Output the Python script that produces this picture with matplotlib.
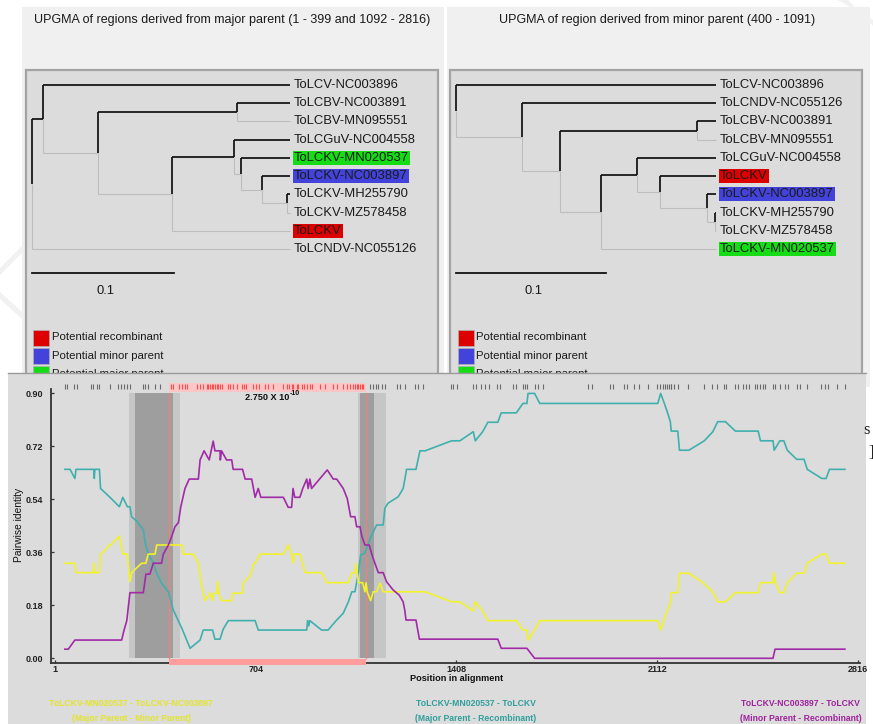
import matplotlib
matplotlib.use('Agg')
import matplotlib.pyplot as plt
from matplotlib.patches import Rectangle

W, H = 873, 724
plt.rcParams['font.family'] = ['Liberation Sans', 'DejaVu Sans']

# ---------------- data ----------------
# UPGMA trees: (node height, upper child, lower child); leaves are names
tree_major = (0.1815,
              (0.1734, 'ToLCV-NC003896',
               (0.1347,
                (0.0375, 'ToLCBV-NC003891', 'ToLCBV-MN095551'),
                (0.0831,
                 (0.0391, 'ToLCGuV-NC004558',
                  (0.0344, 'ToLCKV-MN020537',
                   (0.0195, 'ToLCKV-NC003897',
                    (0.0019, 'ToLCKV-MH255790', 'ToLCKV-MZ578458')))),
                 'ToLCKV'))),
              'ToLCNDV-NC055126')
tree_minor = (0.1733, 'ToLCV-NC003896',
              (0.1291, 'ToLCNDV-NC055126',
               (0.1040,
                (0.0129, 'ToLCBV-NC003891', 'ToLCBV-MN095551'),
                (0.0769,
                 (0.0529, 'ToLCGuV-NC004558',
                  (0.0373, 'ToLCKV',
                   (0.0062, 'ToLCKV-NC003897',
                    (0.0007, 'ToLCKV-MH255790', 'ToLCKV-MZ578458')))),
                 'ToLCKV-MN020537'))))
recombinant = 'ToLCKV'
minor_parent = 'ToLCKV-NC003897'
major_parent = 'ToLCKV-MN020537'
tree_titles = ['UPGMA of regions derived from major parent (1 - 399 and 1092 - 2816)',
               'UPGMA of region derived from minor parent (400 - 1091)']
legend_labels = ['Potential recombinant', 'Potential minor parent', 'Potential major parent']
scale_len = 0.1

# pairwise identity plot
teal_pos = [35, 53, 70, 74, 136, 138, 140, 156, 160, 193, 226, 238, 254, 263, 269, 289, 310, 318,
            327, 345, 357, 374, 398, 415, 445, 474, 509, 520, 553, 561, 579, 590, 608, 702, 713,
            883, 886, 890, 894, 935, 958, 988, 1011, 1029, 1041, 1052, 1064, 1072, 1087, 1099,
            1111, 1128, 1151, 1157, 1168, 1204, 1221, 1227, 1233, 1266, 1280, 1298, 1391, 1420,
            1467, 1474, 1500, 1518, 1553, 1565, 1618, 1641, 1655, 1659, 1682, 1700, 2114, 2124,
            2137, 2149, 2158, 2161, 2184, 2190, 2223, 2277, 2307, 2324, 2351, 2386, 2466, 2474,
            2518, 2522, 2542, 2556, 2568, 2601, 2627, 2638, 2689, 2704, 2716, 2770]
teal_val = [0.642, 0.642, 0.611, 0.642, 0.642, 0.611, 0.642, 0.642, 0.577, 0.547, 0.515, 0.547,
            0.515, 0.515, 0.481, 0.464, 0.436, 0.385, 0.357, 0.323, 0.289, 0.255, 0.226, 0.164,
            0.102, 0.034, 0.062, 0.096, 0.096, 0.065, 0.065, 0.099, 0.128, 0.128, 0.096, 0.096,
            0.128, 0.110, 0.128, 0.096, 0.096, 0.130, 0.153, 0.192, 0.226, 0.226, 0.289, 0.351,
            0.357, 0.391, 0.419, 0.453, 0.453, 0.510, 0.527, 0.549, 0.577, 0.608, 0.642, 0.642,
            0.705, 0.705, 0.739, 0.739, 0.770, 0.739, 0.770, 0.802, 0.802, 0.834, 0.834, 0.866,
            0.866, 0.900, 0.900, 0.866, 0.866, 0.900, 0.866, 0.832, 0.804, 0.772, 0.772, 0.707,
            0.707, 0.739, 0.770, 0.804, 0.804, 0.772, 0.772, 0.739, 0.739, 0.707, 0.739, 0.739,
            0.707, 0.676, 0.676, 0.642, 0.611, 0.611, 0.642, 0.642]
yellow_pos = [35, 70, 74, 135, 137, 139, 156, 160, 176, 191, 196, 226, 238, 254, 263, 269, 304,
              319, 327, 351, 357, 445, 450, 485, 503, 515, 526, 544, 553, 556, 567, 571, 574, 585,
              620, 623, 658, 660, 684, 698, 702, 719, 801, 818, 830, 835, 839, 859, 877, 935, 953,
              1029, 1041, 1052, 1056, 1064, 1079, 1087, 1091, 1095, 1107, 1116, 1128, 1140, 1151,
              1298, 1391, 1420, 1467, 1474, 1500, 1518, 1618, 1641, 1655, 1659, 1682, 1700, 2114,
              2124, 2143, 2158, 2161, 2184, 2190, 2223, 2272, 2307, 2324, 2351, 2386, 2466, 2474,
              2518, 2521, 2526, 2542, 2556, 2568, 2601, 2627, 2638, 2689, 2704, 2716, 2770]
yellow_val = [0.323, 0.323, 0.291, 0.291, 0.323, 0.291, 0.291, 0.354, 0.368, 0.385, 0.385, 0.415,
              0.354, 0.354, 0.260, 0.291, 0.323, 0.323, 0.354, 0.354, 0.385, 0.385, 0.354, 0.354,
              0.323, 0.243, 0.196, 0.221, 0.196, 0.221, 0.221, 0.262, 0.221, 0.196, 0.196, 0.221,
              0.221, 0.255, 0.280, 0.323, 0.323, 0.354, 0.354, 0.385, 0.354, 0.323, 0.354, 0.354,
              0.291, 0.291, 0.257, 0.257, 0.291, 0.291, 0.323, 0.257, 0.257, 0.226, 0.257, 0.226,
              0.196, 0.226, 0.226, 0.255, 0.226, 0.226, 0.192, 0.192, 0.161, 0.192, 0.161, 0.128,
              0.128, 0.096, 0.096, 0.062, 0.096, 0.128, 0.128, 0.096, 0.153, 0.187, 0.223, 0.223,
              0.289, 0.289, 0.257, 0.226, 0.192, 0.192, 0.223, 0.223, 0.257, 0.257, 0.291, 0.257,
              0.223, 0.223, 0.257, 0.289, 0.289, 0.323, 0.354, 0.354, 0.323, 0.323]
purple_pos = [35, 47, 70, 234, 242, 252, 263, 310, 319, 333, 345, 374, 380, 398, 409, 421, 433,
              441, 456, 471, 503, 509, 523, 541, 555, 561, 579, 580, 584, 602, 620, 625, 658, 667,
              690, 702, 713, 722, 801, 818, 830, 835, 841, 859, 869, 883, 888, 894, 900, 955, 976,
              988, 1011, 1025, 1037, 1052, 1058, 1070, 1076, 1087, 1102, 1111, 1122, 1134, 1151,
              1163, 1186, 1207, 1221, 1227, 1231, 1266, 1278, 1553, 1565, 1655, 1682, 2518, 2525,
              2770]
purple_val = [0.031, 0.031, 0.062, 0.062, 0.094, 0.128, 0.223, 0.223, 0.286, 0.286, 0.323, 0.323,
              0.354, 0.385, 0.413, 0.447, 0.461, 0.513, 0.577, 0.609, 0.609, 0.674, 0.705, 0.674,
              0.738, 0.705, 0.705, 0.674, 0.705, 0.674, 0.674, 0.642, 0.642, 0.609, 0.609, 0.547,
              0.577, 0.547, 0.547, 0.513, 0.513, 0.577, 0.547, 0.547, 0.577, 0.609, 0.577, 0.609,
              0.577, 0.640, 0.609, 0.609, 0.577, 0.543, 0.481, 0.481, 0.447, 0.447, 0.415, 0.385,
              0.385, 0.354, 0.323, 0.291, 0.291, 0.260, 0.232, 0.215, 0.192, 0.162, 0.130, 0.130,
              0.065, 0.065, 0.034, 0.034, 0.000, 0.000, 0.031, 0.031]
series_labels = [('ToLCKV-MN020537 - ToLCKV-NC003897', '(Major Parent - Minor Parent)'),
                 ('ToLCKV-MN020537 - ToLCKV', '(Major Parent - Recombinant)'),
                 ('ToLCKV-NC003897 - ToLCKV', '(Minor Parent - Recombinant)')]
region_start, region_end = 400, 1091
bp_light = [(260, 437), (1062, 1160)]
bp_dark = [(281, 413), (1070, 1118)]
site_marks = [35, 41, 67, 78, 127, 135, 146, 156, 193, 222, 231, 242, 254, 263, 308, 316, 327, 351,
              368, 406, 415, 436, 444, 456, 464, 497, 509, 520, 532, 538, 544, 550, 555, 561, 567,
              573, 579, 585, 608, 614, 625, 637, 655, 663, 670, 696, 705, 717, 737, 748, 766, 801,
              815, 822, 830, 836, 848, 853, 865, 873, 883, 894, 900, 929, 947, 976, 988, 1011,
              1023, 1035, 1046, 1052, 1058, 1064, 1070, 1076, 1081, 1105, 1116, 1126, 1134, 1146,
              1157, 1198, 1210, 1227, 1262, 1274, 1292, 1388, 1397, 1411, 1465, 1476, 1493, 1508,
              1523, 1549, 1560, 1607, 1617, 1640, 1648, 1656, 1683, 1695, 1712, 1870, 1882, 1946,
              1956, 1995, 2007, 2030, 2049, 2080, 2110, 2120, 2133, 2139, 2145, 2154, 2159, 2162,
              2170, 2185, 2220, 2276, 2303, 2320, 2346, 2353, 2384, 2396, 2413, 2425, 2435, 2455,
              2463, 2472, 2484, 2490, 2519, 2525, 2542, 2560, 2571, 2601, 2612, 2636, 2688, 2700,
              2712, 2741, 2770]
yticks = [0.00, 0.18, 0.36, 0.54, 0.72, 0.90]
xticks = [1, 704, 1408, 2112, 2816]
pvalue_text = '2.750 X 10'
pvalue_exp = '-10'

# ---------------- colours ----------------
RED, BLUE, GREEN = '#dd0000', '#4343dc', '#16dc16'
TEAL, YELLOW, PURPLE = '#3fb0ad', '#f2f22a', '#a12aa6'
PANEL = '#dcdcdc'
WIN = '#f0f0f0'
hl = {recombinant: RED, minor_parent: BLUE, major_parent: GREEN}

fig = plt.figure(figsize=(W / 100, H / 100), dpi=100)
fig.patch.set_facecolor('white')


def px_axes(x0, y0, x1, y1, z):
    return fig.add_axes([x0 / W, 1 - y1 / H, (x1 - x0) / W, (y1 - y0) / H], zorder=z)


# background layer (windows, titles, legends)
bg = px_axes(0, 0, W, H, 0)
bg.set_xlim(0, W)
bg.set_ylim(H, 0)
bg.axis('off')
# faint watermark strokes
bg.fill([0, 22, 22, 0], [268, 246, 253, 275], color='#f1f1f1', lw=0, zorder=0)
bg.fill([0, 22, 22, 0], [292, 312, 319, 299], color='#f1f1f1', lw=0, zorder=0)
bg.fill([838, 873, 873, 848], [0, 20, 26, 0], color='#f1f1f1', lw=0, zorder=0)

windows = [(22, 444), (447, 870)]
boxes = [(26, 438), (450, 862)]
title_x = [232, 657]
for (w0, w1), (b0, b1), tx, title in zip(windows, boxes, title_x, tree_titles):
    bg.add_patch(Rectangle((w0, 7), w1 - w0, 380, fc=WIN, ec='none', zorder=1))
    bg.add_patch(Rectangle((b0, 70), b1 - b0, 320, fc=PANEL, ec='#a3a3a3', lw=1.6, zorder=2))
    bg.text(tx, 20, title, ha='center', va='center', fontsize=9, color='#1a1a1a', zorder=3)
    sq_x = b0 + 7 if b0 < 100 else b0 + 8
    for k, (lab, col) in enumerate(zip(legend_labels, [RED, BLUE, GREEN])):
        yc = 337.5 + k * 18.3
        bg.add_patch(Rectangle((sq_x, yc - 8), 15.5, 16, fc=col, ec='#b0b0b0', lw=0.5, zorder=3))
        bg.text(sq_x + 18.5, yc, lab, ha='left', va='center', fontsize=8.2, color='#1a1a1a', zorder=3)


def draw_tree(ax, node):
    leaves = []

    def rec(n):
        if isinstance(n, str):
            y = len(leaves)
            leaves.append(n)
            return 0.0, y
        h, a, b = n
        xa, ya = rec(a)
        xb, yb = rec(b)
        xn = -h
        yn = (ya + yb) / 2
        ax.plot([xn, xb], [yb, yb], color='#bdbdbd', lw=0.8, zorder=2, solid_capstyle='butt')
        ax.plot([xn, xn], [yn, yb], color='#bdbdbd', lw=0.8, zorder=2, solid_capstyle='butt')
        ax.plot([xn, xa], [ya, ya], color='#111111', lw=1.25, zorder=3, solid_capstyle='butt')
        ax.plot([xn, xn], [ya, yn], color='#111111', lw=1.25, zorder=3, solid_capstyle='butt')
        return xn, yn

    rec(node)
    for i, name in enumerate(leaves):
        kw = {}
        if name in hl:
            kw['bbox'] = dict(boxstyle='square,pad=0.08', fc=hl[name], ec='none')
        ax.annotate(name, (0, i), xytext=(4, 0), textcoords='offset pixels', ha='left',
                    va='center', fontsize=9.4, color='#1a1a1a', zorder=4, **kw)
    return leaves


tree_geo = [(tree_major, 26, 438, 290, 1423.0), (tree_minor, 450, 862, 716, 1500.0)]
row0, row_h = 85.0, 18.222
for tree, b0, b1, tip, ppu in tree_geo:
    tax = px_axes(b0, 71, b1, 372, 1)
    tax.patch.set_visible(False)
    tax.axis('off')
    tax.set_xlim((b0 - tip) / ppu, (b1 - tip) / ppu)
    tax.set_ylim((372 - row0) / row_h, (71 - row0) / row_h)
    draw_tree(tax, tree)
    xs = (b0 + 5.5 - tip) / ppu
    ys = (272.7 - row0) / row_h
    tax.plot([xs, xs + scale_len], [ys, ys], color='#111111', lw=1.3)
    tax.text(xs + 0.052, (290.7 - row0) / row_h, '%g' % scale_len, ha='center', va='center',
             fontsize=9.4, color='#1a1a1a')

# overlay panel for the lower plot
ov = px_axes(0, 0, W, H, 2)
ov.set_xlim(0, W)
ov.set_ylim(H, 0)
ov.axis('off')
ov.add_patch(Rectangle((8, 372.5), 858, 352, fc=PANEL, ec='none'))
ov.plot([8, 866], [372.8, 372.8], color='#9a9a9a', lw=1.0)
ov.text(863, 430, 's', family=['Liberation Serif', 'DejaVu Serif'], fontsize=12, color='#222222',
        ha='left', va='center')
ov.text(868, 453, ']', family=['Liberation Serif', 'DejaVu Serif'], fontsize=12, color='#222222',
        ha='left', va='center')
ov.text(456.5, 678.5, 'Position in alignment', ha='center', va='center', fontsize=6.6,
        fontweight='bold', color='#111111')
ov.text(19, 525, 'Pairwise identity', rotation=90, ha='center', va='center', fontsize=7.4,
        color='#111111')
lab_x = [131, 476, 800.5]
for (l1, l2), col, lx in zip(series_labels, ['#e4e42c', '#2f9e9c', '#9e229c'], lab_x):
    ov.text(lx, 703.3, l1, ha='center', va='center', fontsize=6.2, fontweight='bold', color=col)
    ov.text(lx, 718.3, l2, ha='center', va='center', fontsize=6.2, fontweight='bold', color=col)

# main identity plot
ax = px_axes(50.7, 389.3, 860, 663.3, 3)
ax.patch.set_visible(False)
ax.set_xlim(-14.8, 2823)
ax.set_ylim(-0.017, 0.914)
for a, b in bp_light:
    ax.add_patch(Rectangle((a, 0), b - a, 0.9, fc='#c6c6c6', ec='none', zorder=1))
for a, b in bp_dark:
    ax.add_patch(Rectangle((a, 0), b - a, 0.9, fc='#9e9e9e', ec='none', zorder=1))
for xr in (region_start, region_end):
    ax.plot([xr, xr], [0, 0.9], color='#f08080', lw=0.9, zorder=2)
ax.add_patch(Rectangle((region_start, 0.906), region_end - region_start, 0.028, fc='#fcc6c6',
                       ec='none', zorder=1, clip_on=False))
ax.add_patch(Rectangle((region_start, -0.0228), region_end - region_start, 0.0194, fc='#ff9c9c',
                       ec='none', zorder=5, clip_on=False))
blk = [p for p in site_marks if not (region_start <= p <= region_end)]
red = [p for p in site_marks if region_start <= p <= region_end]
ax.vlines(blk, 0.914, 0.931, color='#6a6a6a', lw=0.8, clip_on=False, zorder=2)
ax.vlines(red, 0.914, 0.931, color='#ff4a4a', lw=0.8, clip_on=False, zorder=2)

ax.plot(teal_pos, teal_val, color=TEAL, lw=1.2, zorder=3)
ax.plot(yellow_pos, yellow_val, color=YELLOW, lw=1.2, zorder=3)
ax.plot(purple_pos, purple_val, color=PURPLE, lw=1.2, zorder=3)

pt = ax.text(666, 0.8876, pvalue_text, ha='left', va='center', fontsize=6.6, fontweight='bold',
             color='#111111', zorder=6)
ax.annotate(pvalue_exp, xy=(1.0, 0.85), xycoords=pt, xytext=(0.5, 0), textcoords='offset points',
            ha='left', va='center', fontsize=5.0, fontweight='bold', color='#111111', zorder=6,
            annotation_clip=False)

for s in ('top', 'right'):
    ax.spines[s].set_visible(False)
for s in ('left', 'bottom'):
    ax.spines[s].set_color('#333333')
    ax.spines[s].set_linewidth(1.3)
ax.set_yticks(yticks)
ax.set_yticklabels(['%.2f' % v for v in yticks], fontsize=6.5, fontweight='bold', color='#222222')
ax.set_xticks(xticks)
ax.set_xticklabels([str(v) for v in xticks], fontsize=6.5, fontweight='bold', color='#222222')
ax.tick_params(axis='y', direction='in', length=2.5, width=0.9, pad=5.2, colors='#333333',
               labelcolor='#222222')
ax.tick_params(axis='x', direction='in', length=2.5, width=0.9, pad=1.5, colors='#333333',
               labelcolor='#222222')

fig.savefig('out.png', dpi=100)
